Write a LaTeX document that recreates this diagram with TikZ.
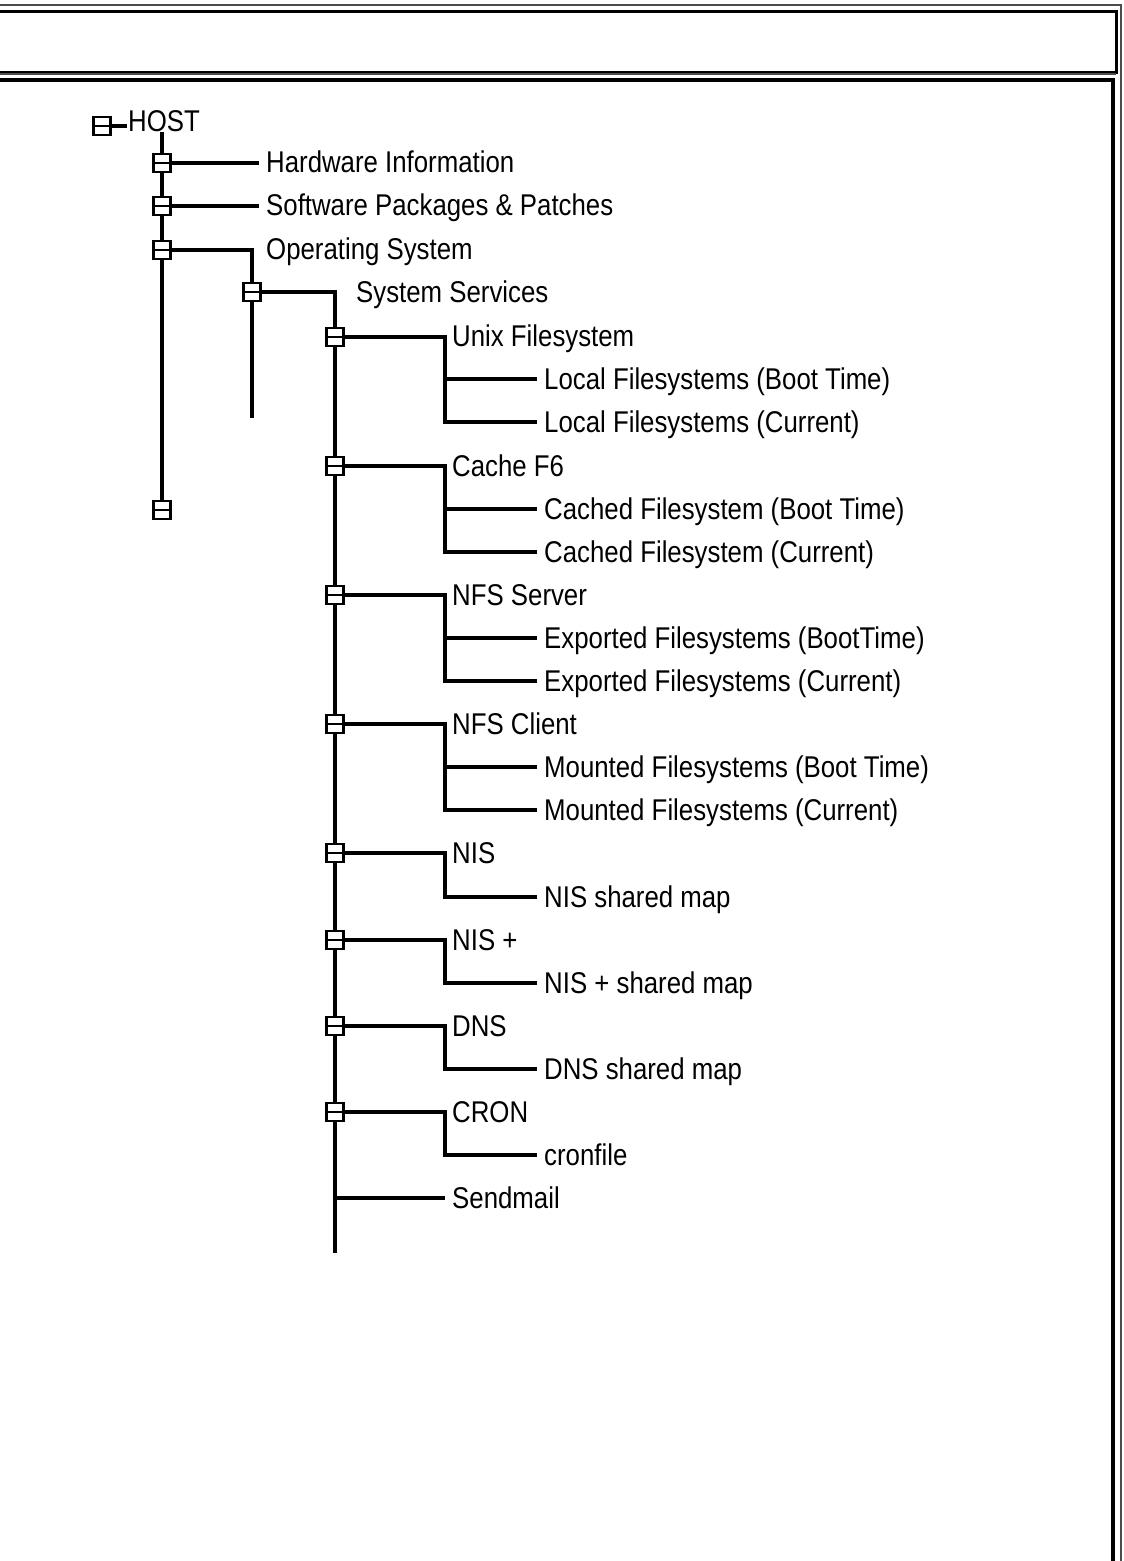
\documentclass[tikz,border=0pt]{standalone}
\usepackage{fontspec}
\setmainfont[FakeStretch=0.86]{Liberation Sans}
\usetikzlibrary{positioning}
\tikzset{
  frame/.style     = {line width=4.5pt},
  thinframe/.style = {line width=1.5pt, gray!60!black},
  wire/.style      = {line width=3.1pt},
  tbox/.style      = {draw, line width=2.6pt, fill=white, minimum width=17pt,
                      minimum height=18pt, inner sep=0pt,
                      path picture={\draw[line width=2.6pt] (path picture bounding box.west)
                        -- (path picture bounding box.east);}},
  lbl/.style       = {anchor=west, inner xsep=7pt, inner ysep=0pt, text height=21pt,
                      text depth=0pt, font=\fontsize{30}{34}\selectfont},
}

\begin{document}
\begin{tikzpicture}[x=1pt,y=-1pt]
  \useasboundingbox (0,0) rectangle (1124,1561);
  % frame
  \draw[thinframe] (0,5) -- (1121,5) -- (1121,1561);
  \draw[frame, line width=3pt] (0,11) -- (1116,11) -- (1116,72) -- (0,72);
  \draw[thinframe] (0,74) -- (1116,74);
  \draw[frame] (0,80) -- (1113,80) -- (1113,1561);
  % host
  \node[tbox] (hostbox) at (102,126) {};
  \node[lbl, inner xsep=1pt] (host) at (127,121) {HOST};
  \draw[wire] (hostbox) -- (hostbox -| host.west);
  % first level
  \node[tbox] (bhw) at (162,163) {};
  \node[tbox] (bsw) at (162,206) {};
  \node[tbox] (bos) at (162,250) {};
  \node[tbox] (bend) at (162,510) {};
  \node[lbl] (hw) at (259,162) {Hardware Information};
  \node[lbl] (sw) at (259,205) {Software Packages \& Patches};
  \node[lbl] (os) at (259,249) {Operating System};
  \draw[wire] (host.south -| bhw) -- (bhw); \draw[wire] (bhw) -- (bsw) -- (bos) -- (bend);
  \draw[wire] (bhw) -- (bhw -| hw.west); \draw[wire] (bsw) -- (bsw -| sw.west);
  % system services
  \node[tbox] (bsys) at (252,292) {};
  \coordinate (osend) at (252,418);
  \node[lbl] (sys) at (349,292) {System Services};
  \draw[wire] (bos) -| (bsys); \draw[wire] (bsys) -- (osend);
  % unix filesystem
  \node[tbox] (bunix) at (335,337) {};
  \node[lbl] (unix) at (445,336) {Unix Filesystem};
  \node[lbl] (lfboot) at (537,379) {Local Filesystems (Boot Time)};
  \node[lbl] (lfcur) at (537,422) {Local Filesystems (Current)};
  \draw[wire] (bsys) -| (bunix);
  \draw[wire] (bunix) -- (bunix -| unix.west) |- (lfcur.west); \draw[wire] (unix.west |- lfboot.west) -- (lfboot.west);
  % cache
  \node[tbox] (bcache) at (335,466) {};
  \node[lbl] (cache) at (445,466) {Cache F6};
  \node[lbl] (cfboot) at (537,509) {Cached Filesystem (Boot Time)};
  \node[lbl] (cfcur) at (537,552) {Cached Filesystem (Current)};
  \draw[wire] (bcache) -- (cache.west) |- (cfcur.west); \draw[wire] (cache.west |- cfboot.west) -- (cfboot.west);
  % nfs server
  \node[tbox] (bnfss) at (335,595) {};
  \node[lbl] (nfss) at (445,595) {NFS Server};
  \node[lbl] (efboot) at (537,638) {Exported Filesystems (BootTime)};
  \node[lbl] (efcur) at (537,681) {Exported Filesystems (Current)};
  \draw[wire] (bnfss) -- (nfss.west) |- (efcur.west); \draw[wire] (nfss.west |- efboot.west) -- (efboot.west);
  % nfs client
  \node[tbox] (bnfsc) at (335,724) {};
  \node[lbl] (nfsc) at (445,724) {NFS Client};
  \node[lbl] (mfboot) at (537,767) {Mounted Filesystems (Boot Time)};
  \node[lbl] (mfcur) at (537,810) {Mounted Filesystems (Current)};
  \draw[wire] (bnfsc) -- (nfsc.west) |- (mfcur.west); \draw[wire] (nfsc.west |- mfboot.west) -- (mfboot.west);
  % nis
  \node[tbox] (bnis) at (335,853) {};
  \node[lbl] (nis) at (445,853) {NIS};
  \node[lbl] (nismap) at (537,897) {NIS shared map};
  \draw[wire] (bnis) -- (nis.west) |- (nismap.west);
  % nis plus
  \node[tbox] (bnisp) at (335,940) {};
  \node[lbl] (nisp) at (445,940) {NIS +};
  \node[lbl] (nispmap) at (537,983) {NIS + shared map};
  \draw[wire] (bnisp) -- (nisp.west) |- (nispmap.west);
  % dns
  \node[tbox] (bdns) at (335,1026) {};
  \node[lbl] (dns) at (445,1026) {DNS};
  \node[lbl] (dnsmap) at (537,1069) {DNS shared map};
  \draw[wire] (bdns) -- (dns.west) |- (dnsmap.west);
  % cron
  \node[tbox] (bcron) at (335,1112) {};
  \node[lbl] (cron) at (445,1112) {CRON};
  \node[lbl] (cronf) at (537,1155) {cronfile};
  \draw[wire] (bcron) -- (cron.west) |- (cronf.west);
  % sendmail
  \node[lbl] (smail) at (445,1198) {Sendmail};
  \coordinate (sysend) at (335,1253);
  \draw[wire] (bunix) -- (bcache) -- (bnfss) -- (bnfsc) -- (bnis) -- (bnisp) -- (bdns) -- (bcron) -- (sysend);
  \draw[wire] (bcron |- smail.west) -- (smail.west);
\end{tikzpicture}
\end{document}
